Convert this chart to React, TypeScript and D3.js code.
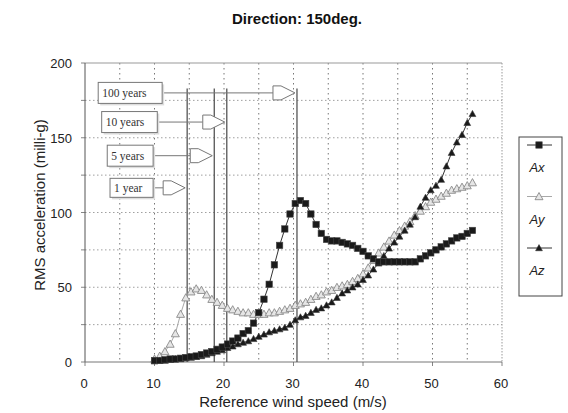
import React from "react";
import * as d3 from "d3";

const windSpeed = [
  10, 10.75, 11.5, 12.25, 13, 13.75, 14.5, 15.25, 16, 16.75, 17.5, 18.25, 19, 19.75, 20.5, 21.25,
  22, 22.75, 23.5, 24.25, 25, 25.75, 26.5, 27.25, 28, 28.75, 29.5, 30.25, 31, 31.75, 32.5, 33.25,
  34, 34.75, 35.5, 36.25, 37, 37.75, 38.5, 39.25, 40, 40.75, 41.5, 42.25, 43, 43.75, 44.5, 45.25,
  46, 46.75, 47.5, 48.25, 49, 49.75, 50.5, 51.25, 52, 52.75, 53.5, 54.25, 55, 55.75,
];
const ax = [
  1, 1, 1.5, 2, 2, 2.5, 3, 3.5, 4, 5, 6, 7, 8.5, 10, 12, 14,
  16, 19, 21, 26, 33, 42, 52, 65, 78, 89, 99, 106, 108, 106, 99, 92,
  86, 82, 81, 81, 80, 79, 78, 76, 74, 71, 69, 67, 67, 67, 67, 67,
  67, 67, 67, 69, 71, 73, 75, 77, 79, 81, 83, 84, 86, 88,
];
const ay = [
  2, 4, 7, 12, 19, 32, 43, 47, 49, 48, 45, 42, 40, 38, 36, 35,
  34, 33, 33, 32, 32, 32, 33, 33, 34, 35, 36, 38, 39, 40, 42, 44,
  45, 47, 48, 50, 51, 52, 54, 56, 59, 63, 68, 73, 77, 81, 85, 88,
  91, 94, 98, 101, 104, 107, 109, 111, 113, 115, 116, 117, 118, 120,
];
const az = [
  0.5, 1, 1, 1.5, 2, 2, 2.5, 3, 3.5, 4, 5, 6, 7, 8, 9.5, 10.5,
  12, 13, 14, 15.5, 17, 18.5, 20, 21, 22, 23, 25, 28, 30, 31, 33, 35,
  36, 38, 40, 43, 46, 48, 50, 52, 55, 58, 62, 66, 71, 76, 80, 84,
  88, 92, 97, 104, 110, 115, 118, 122, 131, 140, 147, 152, 160, 166,
];

const seriesNames = ["Ax", "Ay", "Az"];
const xTicks = [0, 10, 20, 30, 40, 50, 60];
const yTicks = [0, 50, 100, 150, 200];
const xGrid = [5, 10, 15, 20, 25, 30, 35, 40, 45, 50, 55];
const yGrid = [25, 50, 75, 100, 125, 150, 175];

const returnLabels = ["100 years", "10 years", "5 years", "1 year"];
const returnSpeeds = [30.5, 20.4, 18.6, 14.7];
const boxLevels = [180, 160.5, 138, 116.5];
const boxLeft = [1.9, 2.4, 3.2, 3.6];
const boxRight = [11.1, 10.4, 9.8, 9.8];
const lineTop = 183;

const W = 568;
const H = 413;

function Marker({ kind, cx, cy }: { kind: string; cx: number; cy: number }) {
  if (kind === "Ax") {
    return <rect x={cx - 3.2} y={cy - 3.2} width={6.4} height={6.4} fill="#1a1a1a" stroke="#444" strokeWidth={0.6} />;
  }
  if (kind === "Ay") {
    const s = 4;
    return (
      <path
        d={`M${cx},${cy - s} L${cx + s},${cy + s * 0.8} L${cx - s},${cy + s * 0.8} Z`}
        fill="#e6e6e6"
        stroke="#8a8a8a"
        strokeWidth={0.9}
      />
    );
  }
  const s = 3.4;
  return (
    <path
      d={`M${cx},${cy - s} L${cx + s},${cy + s * 0.8} L${cx - s},${cy + s * 0.8} Z`}
      fill="#1a1a1a"
      stroke="#333"
      strokeWidth={0.6}
    />
  );
}

export default function App() {
  const x = d3.scaleLinear().domain([0, 60]).range([85, 502]);
  const y = d3.scaleLinear().domain([0, 200]).range([362, 63]);

  const data = [ax, ay, az];
  const lineColors = ["#333", "#a8a8a8", "#333"];
  const lineGen = (vals: number[]) =>
    d3
      .line<number>()
      .x((_, i) => x(windSpeed[i]))
      .y((d) => y(d))(vals) || "";

  const font = "'Liberation Sans', Arial, sans-serif";
  const serif = "'Liberation Serif', 'Times New Roman', serif";

  return (
    <svg width={W} height={H} style={{ position: "absolute", left: 0, top: 0, background: "#fff" }}>
      <rect x={0} y={0} width={W} height={H} fill="#fff" />
      {/* title */}
      <text x={297} y={24} textAnchor="middle" fontFamily={font} fontWeight="bold" fontSize={15} fill="#111">
        Direction: 150deg.
      </text>

      {/* gridlines */}
      {yGrid.map((v) => (
        <line key={"hy" + v} x1={x(0)} x2={x(60)} y1={y(v)} y2={y(v)} stroke="#888" strokeWidth={0.8} strokeDasharray="1.5,2.5" />
      ))}
      {xGrid.map((v) => (
        <line key={"vx" + v} x1={x(v)} x2={x(v)} y1={y(200)} y2={y(0)} stroke="#666" strokeWidth={0.9} strokeDasharray="1.5,3.5" />
      ))}
      {/* frame */}
      <line x1={x(0)} x2={x(60)} y1={y(200)} y2={y(200)} stroke="#999" strokeWidth={1} />
      <line x1={x(60)} x2={x(60)} y1={y(200)} y2={y(0)} stroke="#999" strokeWidth={1} strokeDasharray="1.5,1.5" />
      <line x1={x(0)} x2={x(0)} y1={y(200)} y2={y(0)} stroke="#555" strokeWidth={1} />
      <line x1={x(0)} x2={x(60)} y1={y(0)} y2={y(0)} stroke="#777" strokeWidth={1} />

      {/* y ticks */}
      {[0, 25, 50, 75, 100, 125, 150, 175, 200].map((v) => (
        <line key={"yt" + v} x1={x(0) - 4} x2={x(0)} y1={y(v)} y2={y(v)} stroke="#666" strokeWidth={0.8} />
      ))}
      {yTicks.map((v) => (
        <text key={"yl" + v} x={72} y={y(v) + 5} textAnchor="end" fontFamily={font} fontSize={13} fill="#222">
          {v}
        </text>
      ))}
      {xTicks.map((v) => (
        <g key={"xl" + v}>
          <line x1={x(v)} x2={x(v)} y1={y(0)} y2={y(0) + 4} stroke="#666" strokeWidth={0.8} />
          <text x={x(v) - 1} y={388} textAnchor="middle" fontFamily={font} fontSize={13} fill="#222">
            {v}
          </text>
        </g>
      ))}

      {/* axis titles */}
      <text x={293} y={407} textAnchor="middle" fontFamily={font} fontSize={15} fill="#222">
        Reference wind speed (m/s)
      </text>
      <text
        transform={`translate(45,${205}) rotate(-90)`}
        textAnchor="middle"
        fontFamily={font}
        fontSize={15}
        fill="#222"
      >
        RMS acceleration (milli-g)
      </text>

      {/* return period vertical lines */}
      {returnSpeeds.map((s, i) => (
        <line key={"rv" + i} x1={x(s)} x2={x(s)} y1={y(lineTop)} y2={y(0)} stroke="#555" strokeWidth={1.3} />
      ))}

      {/* series */}
      {data.map((vals, si) => (
        <path key={"ln" + si} d={lineGen(vals)} fill="none" stroke={lineColors[si]} strokeWidth={1} />
      ))}
      {[1, 2, 0].map((si) =>
        data[si].map((v, i) => <Marker key={si + "-" + i} kind={seriesNames[si]} cx={x(windSpeed[i])} cy={y(v)} />)
      )}

      {/* return period boxes and arrows */}
      {returnLabels.map((lab, i) => {
        const yy = y(boxLevels[i]);
        const x0 = x(boxLeft[i]);
        const x1 = x(boxRight[i]);
        const tip = x(returnSpeeds[i]) - 2;
        const h = i === 3 ? 19 : 21;
        const ah = 7;
        return (
          <g key={"rb" + i}>
            <line x1={x1} x2={tip - 22} y1={yy} y2={yy} stroke="#777" strokeWidth={1} />
            <rect x={x0 + 2} y={yy - h / 2 + 2} width={x1 - x0} height={h} fill="#ddd" stroke="none" />
            <rect x={x0} y={yy - h / 2} width={x1 - x0} height={h} fill="#fff" stroke="#777" strokeWidth={1} />
            <text x={x0 + 4} y={yy + 4} fontFamily={serif} fontSize={11.5} fill="#333">
              {lab}
            </text>
            <path
              d={`M${tip - 22},${yy - ah} L${tip - 14},${yy - ah} L${tip},${yy} L${tip - 14},${yy + ah} L${tip - 22},${yy + ah} Z`}
              fill="#fff"
              stroke="#777"
              strokeWidth={1}
            />
          </g>
        );
      })}

      {/* legend */}
      <rect x={519} y={137} width={43} height={159} fill="#fff" stroke="#444" strokeWidth={1} />
      {seriesNames.map((n, i) => {
        const ly = 145 + i * 51.5;
        return (
          <g key={"lg" + n}>
            <line x1={527} x2={552} y1={ly} y2={ly} stroke={lineColors[i]} strokeWidth={1} />
            <Marker kind={n} cx={539} cy={ly} />
            <text x={537} y={ly + 27} textAnchor="middle" fontFamily={font} fontStyle="italic" fontSize={13} fill="#222">
              {n}
            </text>
          </g>
        );
      })}
    </svg>
  );
}
